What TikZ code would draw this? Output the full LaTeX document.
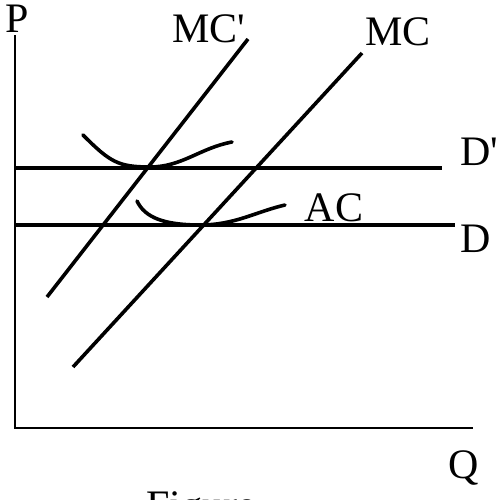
\documentclass[tikz,border=0pt]{standalone}
\usepackage{fontspec}
\setmainfont{Liberation Serif}
\begin{document}
\begin{tikzpicture}[x=1pt,y=-1pt,
    lbl/.style={inner sep=0pt,font=\fontsize{42}{46}\selectfont},
    axis/.style={line width=1.6pt},
    demand/.style={line width=4.6pt},
    cost/.style={line width=3.6pt},
    avg/.style={line width=3.6pt,line cap=round}]
    \useasboundingbox (0,0) rectangle (501,499);
        % axes
        \coordinate (top) at (15,35);
        \coordinate (o) at (15,428);
        \coordinate (right) at (473,428);
        \draw[axis] (top) -- (o) -- (right);
        \node[lbl] (p) at (17,19) {P};
        \node[lbl] (q) at (464,468) {Q};
        \node[lbl,anchor=north west] (fig) at (146,491) {Figure};
        % marginal cost
        \coordinate (mcpa) at (47,297);\coordinate (mcpb) at (248,39);
        \coordinate (mca) at (73,367);\coordinate (mcb) at (362,53);
        \draw[cost] (mcpa) -- (mcpb);
        \draw[cost] (mca) -- (mcb);
        \node[lbl] (mcp) at (209,29) {MC\textquotesingle};
        \node[lbl] (mc) at (398,32) {MC};
        % demand
        \coordinate (dpa) at (15,168);\coordinate (dpb) at (442,168);
        \coordinate (da) at (15,225);\coordinate (db) at (455,225);
        \draw[demand] (dpa) -- (dpb);
        \draw[demand] (da) -- (db);
        \node[lbl,anchor=west] (dp) at (460,152) {D\textquotesingle};
        \node[lbl,anchor=west] (d) at (460,239) {D};
        % average cost
        \draw[avg] (83,135) .. controls (110,162) and (118,167) .. (150,167)
              .. controls (182,167) and (200,148) .. (232,142);
        \draw[avg] (137,201) .. controls (145,218) and (165,225) .. (200,225)
              .. controls (235,225) and (255,212) .. (285,205);
        \node[lbl] (ac) at (334,208) {AC};
    \end{tikzpicture}
\end{document}
